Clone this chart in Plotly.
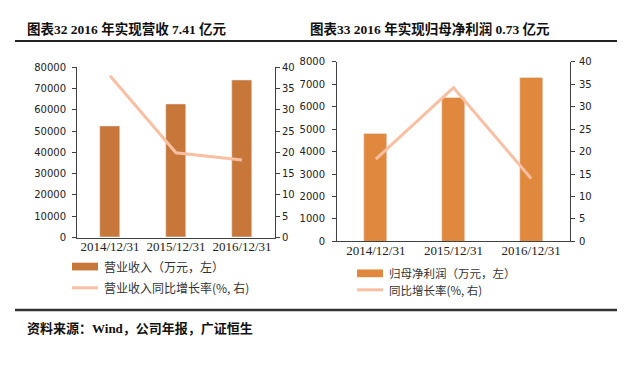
import plotly.graph_objects as go

categories = ["2014/12/31", "2015/12/31", "2016/12/31"]
revenue = [52300, 62700, 74100]          # 营业收入（万元）
revenue_growth = [38.0, 19.9, 18.2]      # 营业收入同比增长率(%)
profit = [4800, 6400, 7300]              # 归母净利润（万元）
profit_growth = [18.3, 34.2, 14.0]       # 同比增长率(%)

left_ticks = list(range(0, 80001, 10000))
right_ticks = list(range(0, 41, 5))
left2_ticks = list(range(0, 8001, 1000))

W, H = 640, 371
def px(x): return x / W
def py(y): return 1 - y / H

bar1 = "#C8773A"
bar2 = "#E0883E"
line_c = "#F8BFA2"
axis_c = "#404040"
num_font = dict(family="DejaVu Sans", size=10, color="#222")
cat_font = dict(family="Liberation Serif", size=13, color="#222")
cjk = "Liberation Serif, Noto Sans CJK SC"

fig = go.Figure()
fig.add_trace(go.Bar(x=categories, y=revenue, marker_color=bar1, width=0.31,
                     xaxis="x", yaxis="y", name="营业收入（万元，左）"))
fig.add_trace(go.Scatter(x=categories, y=revenue_growth, mode="lines",
                         line=dict(color=line_c, width=3), xaxis="x", yaxis="y2",
                         name="营业收入同比增长率(%, 右)"))
fig.add_trace(go.Bar(x=categories, y=profit, marker_color=bar2, width=0.30,
                     xaxis="x2", yaxis="y3", name="归母净利润（万元，左）"))
fig.add_trace(go.Scatter(x=categories, y=profit_growth, mode="lines",
                         line=dict(color=line_c, width=3), xaxis="x2", yaxis="y4",
                         name="同比增长率(%, 右)"))

common_x = dict(showline=True, linecolor=axis_c, linewidth=1, ticks="",
                tickfont=cat_font, showgrid=False, fixedrange=True, ticklabelstandoff=-3)
common_y = dict(showline=True, linecolor=axis_c, linewidth=1, ticks="outside",
                ticklen=4, tickcolor=axis_c, tickfont=num_font, showgrid=False,
                zeroline=False)

fig.update_layout(
    width=W, height=H, margin=dict(l=0, r=0, t=0, b=0),
    paper_bgcolor="white", plot_bgcolor="white", showlegend=False,
    bargap=0.0,
    xaxis=dict(domain=[px(69), px(267)], anchor="y", **common_x),
    yaxis=dict(domain=[py(231), py(55)], anchor="x", range=[0, 80000],
               tickvals=left_ticks, ticktext=[str(v) for v in left_ticks],
               ticklabelstandoff=4, **common_y),
    yaxis2=dict(overlaying="y", side="right", anchor="x", range=[0, 40],
                tickvals=right_ticks, ticktext=[str(v) for v in right_ticks], **common_y),
    xaxis2=dict(domain=[px(329), px(562)], anchor="y3", **common_x),
    yaxis3=dict(domain=[py(235), py(49.3)], anchor="x2", range=[0, 8000],
                tickvals=left2_ticks, ticktext=[str(v) for v in left2_ticks],
                ticklabelstandoff=5, **common_y),
    yaxis4=dict(overlaying="y3", side="right", anchor="x2", range=[0, 40],
                tickvals=right_ticks, ticktext=[str(v) for v in right_ticks],
                ticklabelstandoff=2, **common_y),
)

shapes = []
annotations = []
# Title rules
shapes.append(dict(type="line", xref="paper", yref="paper", x0=px(7), x1=px(609),
                   y0=py(28), y1=py(28), line=dict(color="#222", width=2)))
shapes.append(dict(type="line", xref="paper", yref="paper", x0=px(7), x1=px(609),
                   y0=py(306), y1=py(306), line=dict(color="#333", width=2.5)))
annotations.append(dict(text="<b>图表32 2016 年实现营收 7.41 亿元</b>", xref="paper", yref="paper",
                        x=px(17), y=py(16), xanchor="left", yanchor="middle", showarrow=False,
                        font=dict(family=cjk, size=13.5, color="#111")))
annotations.append(dict(text="<b>图表33 2016 年实现归母净利润 0.73 亿元</b>", xref="paper", yref="paper",
                        x=px(300), y=py(16), xanchor="left", yanchor="middle", showarrow=False,
                        font=dict(family=cjk, size=13.5, color="#111")))
annotations.append(dict(text="<b>资料来源：Wind，公司年报，广证恒生</b>", xref="paper", yref="paper",
                        x=px(17), y=py(325), xanchor="left", yanchor="middle", showarrow=False,
                        font=dict(family=cjk, size=13, color="#111")))

# Legends (drawn manually)
def legend_bar(x0, y, color, text, size):
    shapes.append(dict(type="rect", xref="paper", yref="paper", x0=px(x0), x1=px(x0 + 26),
                       y0=py(y + 4), y1=py(y - 4), fillcolor=color, line=dict(width=0)))
    annotations.append(dict(text=text, xref="paper", yref="paper", x=px(x0 + 30), y=py(y),
                            xanchor="left", yanchor="middle", showarrow=False,
                            font=dict(family="Noto Sans CJK SC", size=size, color="#333")))
def legend_line(x0, y, color, text, size):
    shapes.append(dict(type="line", xref="paper", yref="paper", x0=px(x0), x1=px(x0 + 26),
                       y0=py(y), y1=py(y), line=dict(color=color, width=3)))
    annotations.append(dict(text=text, xref="paper", yref="paper", x=px(x0 + 30), y=py(y),
                            xanchor="left", yanchor="middle", showarrow=False,
                            font=dict(family="Noto Sans CJK SC", size=size, color="#333")))

legend_bar(64, 261, bar1, "营业收入（万元，左）", 12)
legend_line(64, 283, line_c, "营业收入同比增长率(%, 右)", 12)
legend_bar(349, 268, bar2, "归母净利润（万元，左）", 11.5)
legend_line(349, 285, line_c, "同比增长率(%, 右)", 11.5)

fig.update_layout(shapes=shapes, annotations=annotations)
fig.write_html("out.html")
